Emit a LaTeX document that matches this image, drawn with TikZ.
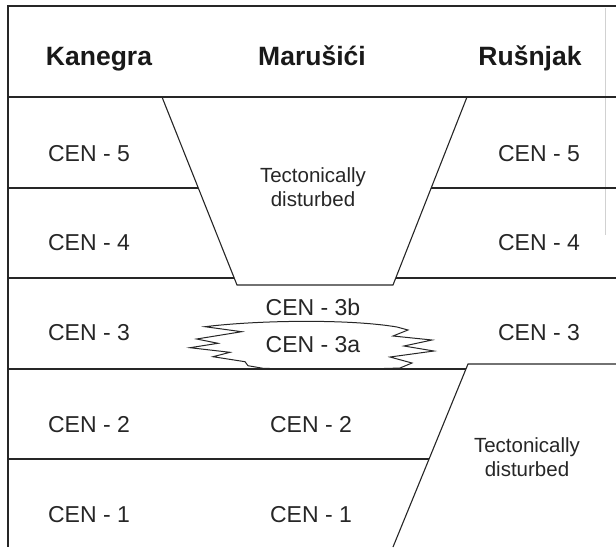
\documentclass[tikz,border=0pt]{standalone}
\usepackage{fontspec}
\setmainfont{Liberation Sans}
\begin{document}
\begin{tikzpicture}[x=1pt,y=-1pt,
  lbl/.style={inner sep=0pt, text=black!85, font=\fontsize{23}{26}\selectfont},
  head/.style={inner sep=0pt, anchor=base, text=black!90, font=\fontsize{26.5}{30}\bfseries\selectfont},
  td/.style={inner sep=0pt, align=center, text=black!85, font=\fontsize{20.5}{24}\selectfont},
  geo/.style={draw=black!85, line width=1.1pt, line join=miter},
  faint/.style={draw=black!18, line width=0.8pt}]
\useasboundingbox (0,0) rectangle (616,547);
% frame
\coordinate (tl) at (8,6);
\coordinate (tr) at (616,6);
\coordinate (bl) at (8,547);
\draw[geo] (tr) -- (tl) -- (bl);
\draw[faint] (605,8) -- (605,235);
% upper fault block (trapezoid)
\coordinate (ua) at (162,97);
\coordinate (ub) at (237,285);
\coordinate (uc) at (393,285);
\coordinate (ud) at (467,97);
\draw[geo] (ua) -- (ub) -- (uc) -- (ud);
% horizontal boundaries
\draw[geo] (8,97) -- (616,97);
\draw[geo] (8,188) -- (198,188);
\draw[geo] (431,188) -- (616,188);
\draw[geo] (8,278) -- (234,278);
\draw[geo] (396,278) -- (616,278);
% lower fault
\coordinate (la) at (468,364);
\coordinate (lb) at (393,547);
\draw[geo] (616,364) -- (la) -- (lb);
\draw[geo] (8,369) -- (466,369);
\draw[geo] (8,459) -- (429,459);
% lens CEN-3a
\draw[geo, line width=1pt, line join=miter]
  (205,326.7) .. controls (260,320) and (350,319) .. (397,327)
  -- (408,330) -- (393,336) -- (432,340) -- (404,346) -- (434,351)
  -- (390,357) -- (412,363) -- (400,368)
  .. controls (360,369.5) and (300,369.5) .. (263,368.3)
  -- (248,365.7) -- (245,361.7) -- (213,356.7) -- (230,352.3)
  -- (190,347.7) -- (218,343.3) -- (196.7,339) -- (241.7,331.7) -- cycle;
% headers
\node[head] (hk) at (99,65) {Kanegra};
\node[head] (hm) at (312,65) {Marušići};
\node[head] (hr) at (530,65) {Rušnjak};
% left column
\node[lbl] (k5) at (89,153.5) {CEN - 5};
\node[lbl] (k4) at (89,243) {CEN - 4};
\node[lbl] (k3) at (89,333) {CEN - 3};
\node[lbl] (k2) at (89,425) {CEN - 2};
\node[lbl] (k1) at (89,515) {CEN - 1};
% middle column
\node[td] (mt) at (313,187.5) {Tectonically\\disturbed};
\node[lbl] (m3b) at (313,307) {CEN - 3b};
\node[lbl] (m3a) at (313,345) {CEN - 3a};
\node[lbl] (m2) at (311,425) {CEN - 2};
\node[lbl] (m1) at (311,515) {CEN - 1};
% right column
\node[lbl] (r5) at (539,153.5) {CEN - 5};
\node[lbl] (r4) at (539,243) {CEN - 4};
\node[lbl] (r3) at (539,333) {CEN - 3};
\node[td] (rt) at (527,457.5) {Tectonically\\disturbed};
\end{tikzpicture}
\end{document}
